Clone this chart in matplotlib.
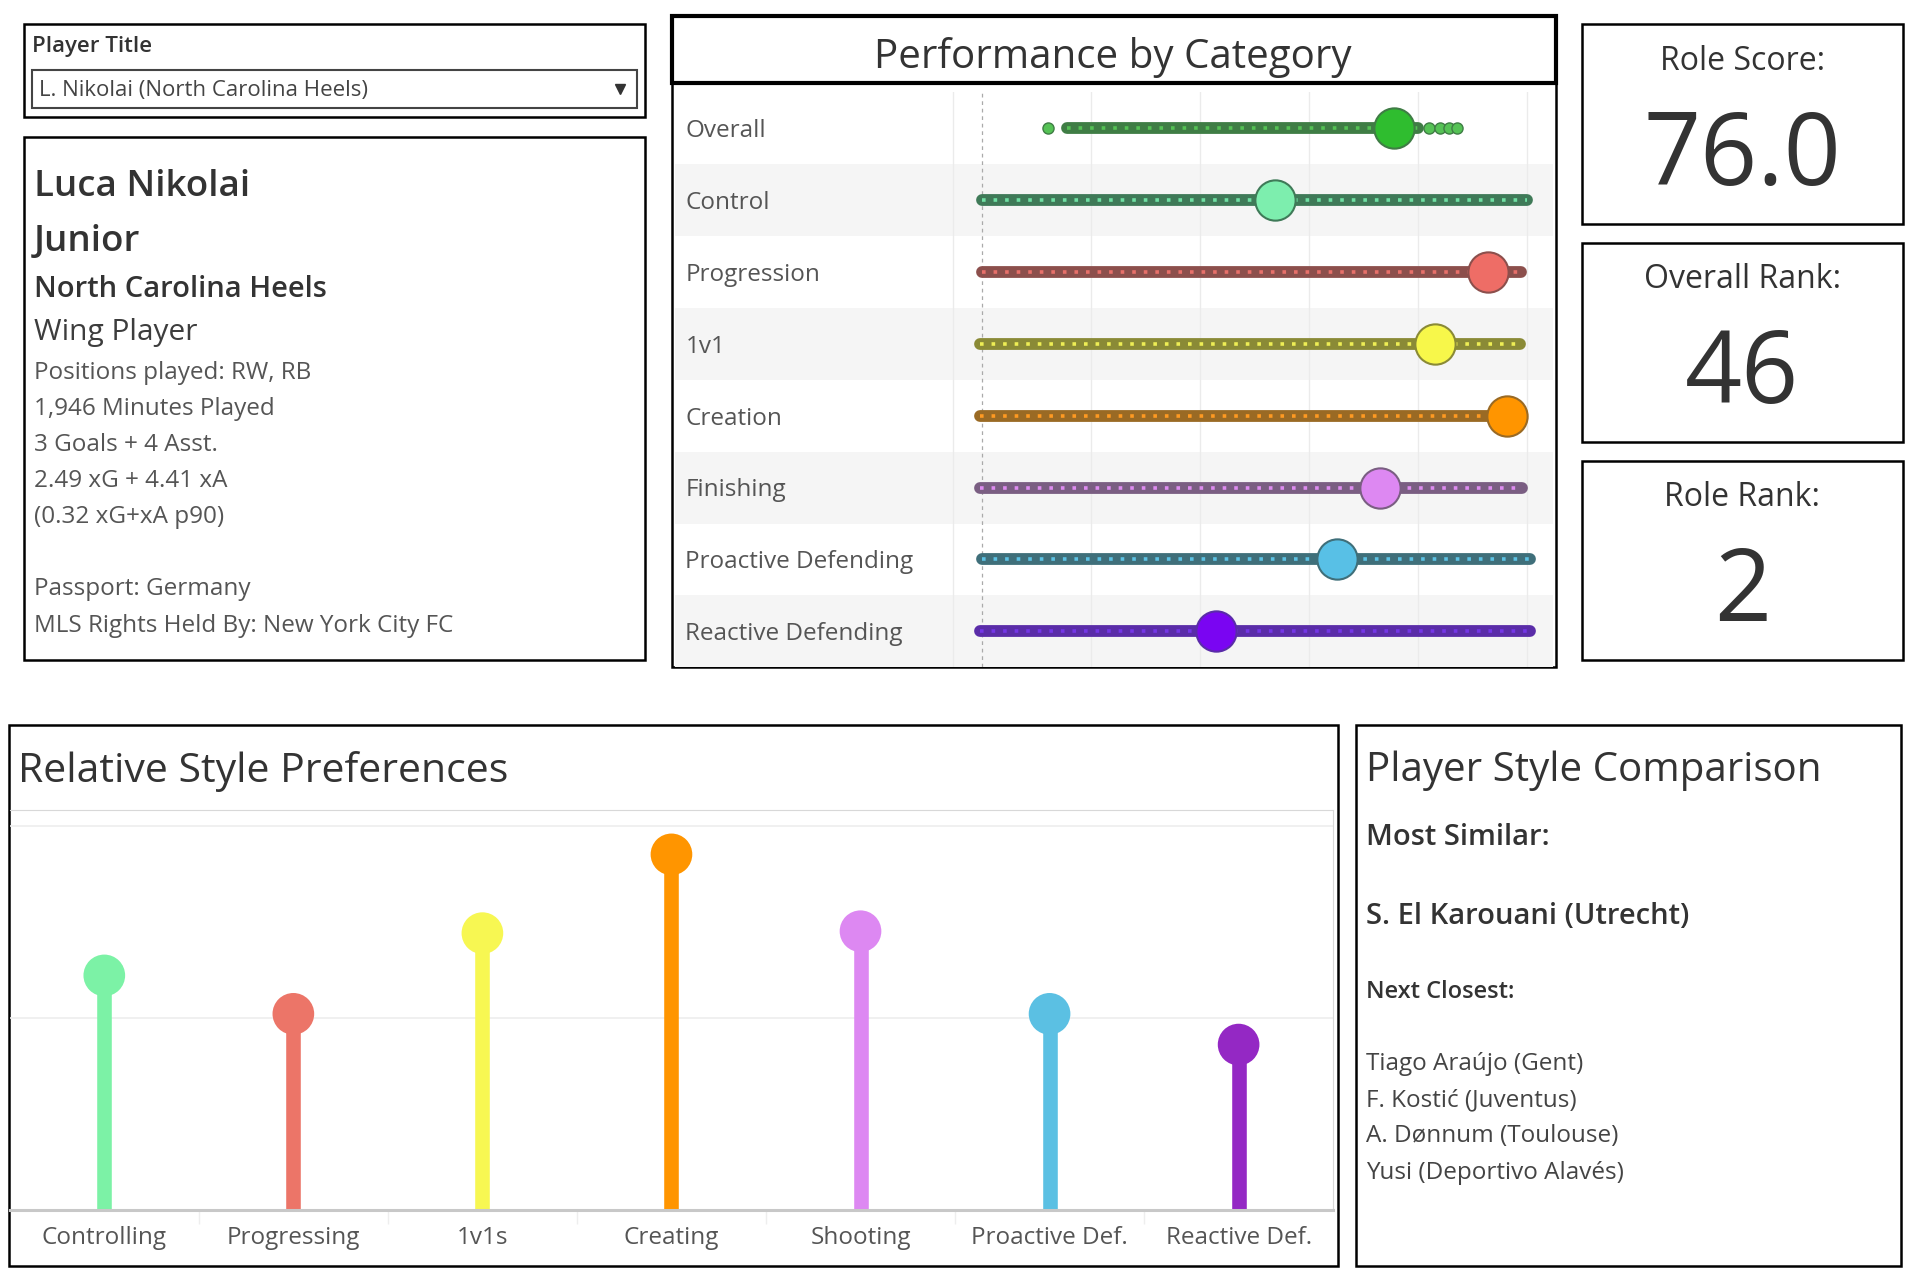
import matplotlib
matplotlib.use("Agg")
import matplotlib.pyplot as plt
from matplotlib.patches import Rectangle

plt.rcParams['font.family'] = ['Open Sans', 'DejaVu Sans']

# --- player card ---
player_pick = "L. Nikolai (North Carolina Heels)"
player_name = "Luca Nikolai"
player_class = "Junior"
player_team = "North Carolina Heels"
player_role = "Wing Player"
player_stats = ["Positions played: RW, RB", "1,946 Minutes Played", "3 Goals + 4 Asst.",
                "2.49 xG + 4.41 xA", "(0.32 xG+xA p90)"]
player_extra = ["Passport: Germany", "MLS Rights Held By: New York City FC"]

# --- performance by category (percentile 0-100) ---
perf_cats = ["Overall", "Control", "Progression", "1v1", "Creation", "Finishing",
             "Proactive Defending", "Reactive Defending"]
perf_player = [75.6, 53.6, 92.8, 83.0, 96.2, 72.9, 65.0, 42.8]
perf_low = [15.5, 0.0, 0.0, -0.5, -0.5, -0.5, 0.0, -0.5]
perf_high = [80.0, 100.0, 98.9, 98.6, 98.0, 99.0, 100.5, 100.5]
overall_outliers = [12.1, 82.0, 84.0, 85.6, 87.0]
perf_strip = ["#3f7d45", "#3f7a58", "#8c4f4c", "#8a8a36", "#9a6a24", "#7a5e82", "#3f6f7a", "#5a2ca8"]
perf_dots = ["#55c255", "#70e0a4", "#e8706a", "#eeee55", "#ff9a22", "#de8cf0", "#5cc2e4", "#7436e6"]
perf_mark = ["#2fbd2f", "#7deeae", "#ee6d66", "#f7f74a", "#ff9500", "#dd88f2", "#58c0e6", "#7a05f2"]

# --- score boxes ---
score_labels = ["Role Score:", "Overall Rank:", "Role Rank:"]
score_values = ["76.0", "46", "2"]

# --- relative style preferences ---
style_cats = ["Controlling", "Progressing", "1v1s", "Creating", "Shooting", "Proactive Def.", "Reactive Def."]
style_vals = [1.22, 1.02, 1.44, 1.85, 1.45, 1.02, 0.86]
style_colors = ["#7cf2a6", "#ec7568", "#f7f752", "#ff9500", "#dd88f2", "#5bc0e3", "#9428c4"]

# --- style comparison ---
most_similar = "S. El Karouani (Utrecht)"
next_closest = ["Tiago Araújo (Gent)", "F. Kostić (Juventus)", "A. Dønnum (Toulouse)",
                "Yusi (Deportivo Alavés)"]

W0, H0 = 1568, 1054
fig = plt.figure(figsize=(19.16, 12.88), dpi=100)
bg = fig.add_axes([0, 0, 1, 1])
bg.set_xlim(0, W0)
bg.set_ylim(H0, 0)
bg.axis('off')

dark = "#333333"
mid = "#555555"


def box(x0, y0, x1, y1, lw=1.8, ec="black"):
    bg.add_patch(Rectangle((x0, y0), x1 - x0, y1 - y0, fill=False, ec=ec, lw=lw, zorder=5))


def add_ax(x0, y0, x1, y1):
    return fig.add_axes([x0 / W0, 1 - y1 / H0, (x1 - x0) / W0, (y1 - y0) / H0])


def txt(x, y, s, size, color=dark, weight="normal", ha="left"):
    bg.text(x, y, s, fontsize=size, color=color, fontweight=weight, ha=ha, va="center")


# player title selector
box(20, 20, 528, 96)
txt(26, 38, "Player Title", 16, weight="semibold")
box(26, 57, 521, 88, lw=1.5, ec="#444444")
txt(32, 74, player_pick, 16, color="#444444")
bg.plot([507], [73], marker="v", color="#333333", markersize=7)

# player info card
box(20, 112, 528, 540)
txt(28, 153, player_name, 26.5, weight="semibold")
txt(28, 198, player_class, 26.5, weight="semibold")
txt(28, 237, player_team, 21, weight="semibold")
txt(28, 272, player_role, 21.5, color="#3d3d3d")
for i, s in enumerate(player_stats):
    txt(28, 305 + i * 29.5, s, 17.5, color=mid)
for i, s in enumerate(player_extra):
    txt(28, 482 + i * 30, s, 17.5, color=mid)

# performance by category
box(550, 13, 1273, 546)
box(550, 13, 1273, 68, lw=3)
txt(911, 47, "Performance by Category", 29, ha="center")

ax = add_ax(552, 75.6, 1271, 546)
ax.set_facecolor("none")
ax.set_xlim(-56.5, 104.7)
ax.set_ylim(len(perf_cats) - 0.5, -0.5)
for i in range(len(perf_cats)):
    if i % 2 == 1:
        ax.axhspan(i - 0.5, i + 0.5, color="#f5f5f5", lw=0, zorder=0)
for g in [-5.4, 20, 40, 60, 80, 100]:
    ax.axvline(g, color="#ebebeb", lw=1, zorder=1)
ax.axvline(0, color="#aaaaaa", lw=0.9, ls=(0, (3, 3)), zorder=1)
for i, cat in enumerate(perf_cats):
    ax.text(-54.5, i + 0.04, cat, fontsize=17.5, color=mid, va="center", ha="left")
    ax.plot([perf_low[i], perf_high[i]], [i, i], color=perf_strip[i], lw=8.5,
            solid_capstyle="round", zorder=2)
    ax.plot([perf_low[i], perf_high[i]], [i, i], color=perf_dots[i], lw=2.6,
            ls=(0, (1, 2.2)), zorder=3)
    ax.plot([perf_player[i]], [i], "o", color=perf_mark[i], markersize=29,
            mec=perf_strip[i], mew=1.5, zorder=4)
ax.plot(overall_outliers, [0] * len(overall_outliers), "o", color=perf_dots[0],
        mec=perf_strip[0], markersize=8, mew=1, zorder=2)
ax.axis("off")

# score boxes
for i, (lab, val) in enumerate(zip(score_labels, score_values)):
    y0 = 20 + i * 178.5
    box(1295, y0, 1557, y0 + 163)
    txt(1426, y0 + 30, lab, 23, ha="center")
    txt(1426, y0 + 110, val, 72, ha="center")

# relative style preferences
box(7, 593, 1095, 1036)
txt(15, 631, "Relative Style Preferences", 29.5, color=dark)
ax2 = add_ax(8, 663, 1091, 990)
ax2.set_facecolor("none")
xs = list(range(len(style_cats)))
ax2.set_xlim(-0.5, len(style_cats) - 0.5)
ax2.set_ylim(0, 2.08)
for g in [1, 2]:
    ax2.axhline(g, color="#eeeeee", lw=1.2, zorder=0)
ax2.vlines(xs, 0, style_vals, colors=style_colors, lw=10.5, zorder=2)
ax2.scatter(xs, style_vals, s=30 ** 2, c=style_colors, zorder=3, lw=0)
for sp in ["left", "bottom"]:
    ax2.spines[sp].set_visible(False)
ax2.spines["top"].set_color("#d8d8d8")
ax2.spines["right"].set_color("#d8d8d8")
ax2.axhline(0, color="#c8c8c8", lw=2.2, zorder=4, clip_on=False)
ax2.set_yticks([])
ax2.set_xticks(xs)
ax2.set_xticklabels(style_cats, fontsize=17.5, color=mid)
ax2.tick_params(axis="x", length=0, pad=12)
ax2.set_xticks([x + 0.5 for x in xs[:-1]], minor=True)
ax2.tick_params(axis="x", which="minor", length=10, color="#eeeeee", width=1)

# player style comparison
box(1110, 593, 1556, 1036)
txt(1118, 631, "Player Style Comparison", 29, color=dark)
txt(1118, 685, "Most Similar:", 21, weight="semibold")
txt(1118, 750, most_similar, 21, weight="semibold")
txt(1118, 812, "Next Closest:", 17, weight="semibold")
for i, s in enumerate(next_closest):
    txt(1118, 871 + i * 29.5, s, 17.5, color="#444444")

fig.savefig("out.png", dpi=100)
